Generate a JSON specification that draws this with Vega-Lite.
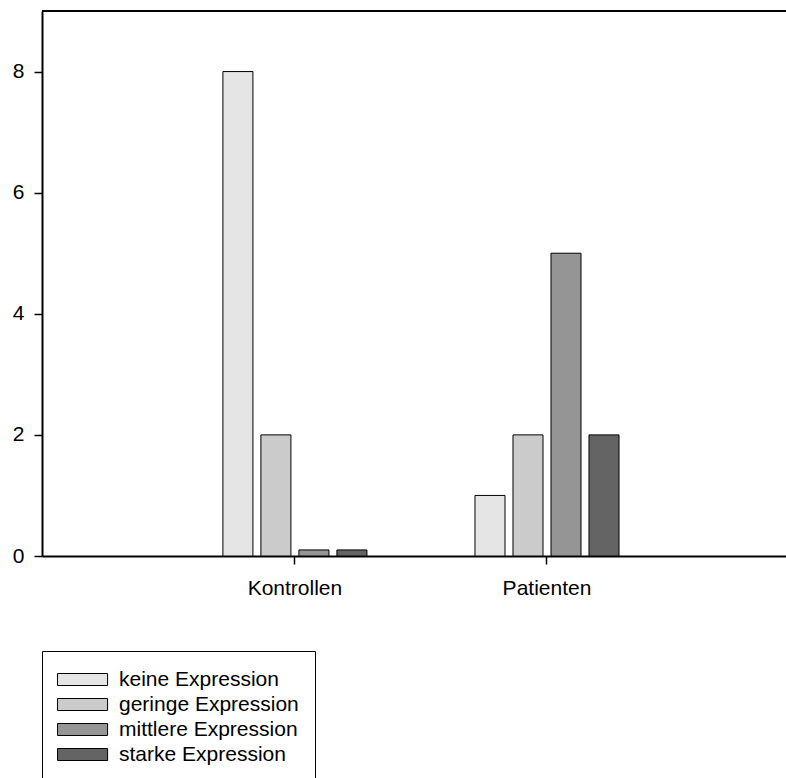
{
  "$schema": "https://vega.github.io/schema/vega-lite/v6.json",
  "autosize": "none",
  "padding": {"left": 42, "top": 11, "right": 0, "bottom": 222},
  "width": 744,
  "height": 545,
  "background": "white",
  "config": {
    "view": {"stroke": null},
    "font": "Liberation Sans"
  },
  "data": {
    "values": [
      {"gruppe": "Kontrollen", "expression": "keine Expression", "anzahl": 8},
      {"gruppe": "Kontrollen", "expression": "geringe Expression", "anzahl": 2},
      {"gruppe": "Kontrollen", "expression": "mittlere Expression", "anzahl": 0.1},
      {"gruppe": "Kontrollen", "expression": "starke Expression", "anzahl": 0.1},
      {"gruppe": "Patienten", "expression": "keine Expression", "anzahl": 1},
      {"gruppe": "Patienten", "expression": "geringe Expression", "anzahl": 2},
      {"gruppe": "Patienten", "expression": "mittlere Expression", "anzahl": 5},
      {"gruppe": "Patienten", "expression": "starke Expression", "anzahl": 2}
    ]
  },
  "layer": [
    {
      "mark": {"type": "bar", "stroke": "black", "strokeWidth": 1},
      "encoding": {
        "x": {
          "field": "gruppe",
          "type": "nominal",
          "sort": ["Kontrollen", "Patienten"],
          "scale": {"paddingInner": 0.4286, "paddingOuter": 0.69, "align": 0.52},
          "axis": {
            "title": null,
            "labelAngle": 0,
            "labelFontSize": 21,
            "labelColor": "black",
            "labelPadding": 13,
            "tickSize": 8,
            "tickColor": "black",
            "tickWidth": 1.5,
            "domainColor": "black",
            "domainWidth": 2
          }
        },
        "xOffset": {
          "field": "expression",
          "type": "nominal",
          "sort": ["keine Expression", "geringe Expression", "mittlere Expression", "starke Expression"],
          "scale": {"paddingInner": 0.21, "paddingOuter": 0}
        },
        "y": {
          "field": "anzahl",
          "type": "quantitative",
          "scale": {"domain": [0, 9], "nice": false},
          "axis": {
            "title": null,
            "values": [0, 2, 4, 6, 8],
            "format": "d",
            "grid": false,
            "labelFontSize": 21,
            "labelColor": "black",
            "labelPadding": 10,
            "tickSize": 8,
            "tickColor": "black",
            "tickWidth": 1.5,
            "domainColor": "black",
            "domainWidth": 2
          }
        },
        "fill": {
          "field": "expression",
          "type": "nominal",
          "sort": ["keine Expression", "geringe Expression", "mittlere Expression", "starke Expression"],
          "scale": {
            "domain": ["keine Expression", "geringe Expression", "mittlere Expression", "starke Expression"],
            "range": ["#e5e5e5", "#cbcbcb", "#959595", "#646464"]
          },
          "legend": {
            "title": null,
            "orient": "none",
            "legendX": 0,
            "legendY": 640,
            "strokeColor": "black",
            "fillColor": "white",
            "padding": 16,
            "labelFontSize": 21,
            "labelColor": "black",
            "labelOffset": 36,
            "labelLimit": 400,
            "symbolType": "M-1.08,-0.5H3.09V0.5H-1.08Z",
            "symbolSize": 576,
            "symbolStrokeColor": "black",
            "symbolStrokeWidth": 1,
            "symbolOpacity": 1,
            "rowPadding": 2
          }
        }
      }
    },
    {
      "mark": {"type": "rule", "color": "black", "strokeWidth": 2},
      "encoding": {"y": {"datum": 9}}
    }
  ]
}
